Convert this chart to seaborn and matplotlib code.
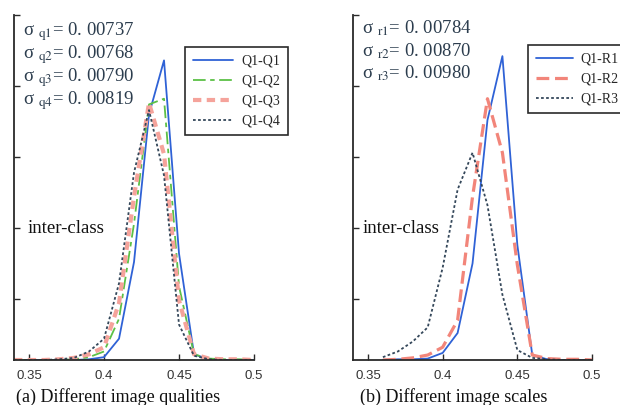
import pandas as pd
import seaborn as sns
import matplotlib.pyplot as plt

# --- Data ---
x_q = [0.34, 0.35, 0.36, 0.37, 0.38, 0.39, 0.40, 0.41, 0.42,
       0.43, 0.44, 0.45, 0.46, 0.47, 0.48, 0.49, 0.50]
q1 = [0, 0, 0, 0, 0, 0.05, 0.2, 1.5, 6.9, 17.3, 21.1, 7.5, 0.4, 0.05, 0, 0, 0]
q2 = [0, 0, 0, 0, 0.05, 0.2, 0.6, 2.9, 9.6, 18.0, 18.4, 5.2, 0.4, 0.1, 0.05, 0.05, 0]
q3 = [0, 0, 0, 0.05, 0.15, 0.4, 0.9, 4.0, 11.5, 18.1, 14.5, 4.2, 0.4, 0.1, 0.05, 0.05, 0]
q4 = [0, 0, 0, 0.05, 0.15, 0.6, 1.5, 5.4, 13.2, 17.6, 13.0, 2.5, 0.3, 0.05, 0, 0, 0]

x_r = [0.36, 0.37, 0.38, 0.39, 0.40, 0.41, 0.42, 0.43,
       0.44, 0.45, 0.46, 0.47, 0.48, 0.49, 0.50]
r1 = [0, 0.05, 0.05, 0.1, 0.5, 1.9, 6.8, 16.9, 21.4, 8.1, 0.35, 0.05, 0, 0, 0]
r2 = [0, 0.05, 0.15, 0.35, 0.9, 2.8, 11.5, 18.4, 14.6, 6.7, 0.35, 0.1, 0.05, 0.05, 0]
r3 = [0.2, 0.6, 1.3, 2.3, 6.5, 12.0, 14.6, 10.9, 4.6, 0.7, 0.15, 0.05, 0, 0, 0]

q_labels = ["Q1-Q1", "Q1-Q2", "Q1-Q3", "Q1-Q4"]
r_labels = ["Q1-R1", "Q1-R2", "Q1-R3"]
sigma_q = ["0. 00737", "0. 00768", "0. 00790", "0. 00819"]
sigma_r = ["0. 00784", "0. 00870", "0. 00980"]
x_ticks = [0.35, 0.40, 0.45, 0.50]
x_ticklabels = ["0.35", "0.4", "0.45", "0.5"]
y_ticks = [4.3, 9.3, 14.3, 19.3, 24.3]

# --- Styles ---
sns.set_style("ticks")
plt.rcParams["font.family"] = ["Liberation Serif", "DejaVu Serif"]
plt.rcParams["mathtext.fontset"] = "stix"

BLUE = "#2f62d6"
GREEN = "#5cc046"
SALMON = "#f5a39b"
SALMON2 = "#f2857a"
DARK = "#34475a"
TXT = "#2c3d4e"

q_styles = [
    dict(color=BLUE, lw=1.3, dashes=None),
    dict(color=GREEN, lw=1.3, dashes=(7, 2.5, 2.5, 2.5)),
    dict(color=SALMON, lw=3.0, dashes=(2, 1.3)),
    dict(color=DARK, lw=1.3, dashes=(1.5, 1.3)),
]
r_styles = [
    dict(color=BLUE, lw=1.3, dashes=None),
    dict(color=SALMON2, lw=2.3, dashes=(4, 1.8)),
    dict(color=DARK, lw=1.3, dashes=(1.5, 1.3)),
]

fig = plt.figure(figsize=(6.2, 4.05), dpi=100)
ax_a = fig.add_axes([0.0226, 0.1111, 0.3871, 0.852])
ax_b = fig.add_axes([0.5694, 0.1111, 0.3855, 0.852])


def draw(ax, xs, series, labels, styles):
    for ys, lab, st in zip(series, labels, styles):
        df = pd.DataFrame({"x": xs, "y": ys})
        sns.lineplot(data=df, x="x", y="y", ax=ax, color=st["color"],
                     lw=st["lw"], label=lab)
        if st["dashes"] is not None:
            ax.lines[-1].set_dashes(st["dashes"])


draw(ax_a, x_q, [q1, q2, q3, q4], q_labels, q_styles)
draw(ax_b, x_r, [r1, r2, r3], r_labels, r_styles)

for ax in (ax_a, ax_b):
    ax.set_xlim(0.34, 0.5)
    ax.set_ylim(0, 24.3)
    ax.set_xticks(x_ticks)
    ax.set_xticklabels(x_ticklabels, family="Liberation Sans", fontsize=9.5, color="#333333")
    ax.set_yticks(y_ticks)
    ax.set_yticklabels([])
    ax.tick_params(direction="in", length=4, width=1, color="#2a2a2a", pad=7)
    ax.set_xlabel("")
    ax.set_ylabel("")
    sns.despine(ax=ax)
    for s in ("left", "bottom"):
        ax.spines[s].set_color("#2a2a2a")
        ax.spines[s].set_linewidth(1.3)
    ax.patch.set_alpha(0)

# sigma annotations
for i, v in enumerate(sigma_q):
    ax_a.text(0.0375, [0.951, 0.885, 0.818, 0.752][i],
              "σ $_{\\mathrm{q%d}}$= %s" % (i + 1, v),
              transform=ax_a.transAxes, fontsize=13.5, color=TXT, va="center")
for i, v in enumerate(sigma_r):
    ax_b.text(0.036, [0.962, 0.896, 0.830][i],
              "σ $_{\\mathrm{r%d}}$= %s" % (i + 1, v),
              transform=ax_b.transAxes, fontsize=13.5, color=TXT, va="center")

ax_a.text(0.058, 0.38, "inter-class", transform=ax_a.transAxes,
          fontsize=13.5, color="#111111", va="center")
ax_b.text(0.04, 0.38, "inter-class", transform=ax_b.transAxes,
          fontsize=13.5, color="#111111", va="center")

leg_kw = dict(loc="upper left", borderaxespad=0, fancybox=False, framealpha=1,
              edgecolor="#2a2a2a", fontsize=10, handlelength=2.9,
              handletextpad=0.6, labelspacing=0.5, borderpad=0.55)
la = ax_a.legend(bbox_to_anchor=(0.7125, 0.907), **leg_kw)
leg_kw["handlelength"] = 2.7
leg_kw["handletextpad"] = 0.5
lb = ax_b.legend(bbox_to_anchor=(0.732, 0.913), **leg_kw)
for lg in (la, lb):
    lg.get_frame().set_linewidth(1.2)

fig.text(0.0258, 0.02, "(a) Different image qualities", fontsize=13, va="center", color="#111111")
fig.text(0.5806, 0.02, "(b) Different image scales", fontsize=13, va="center", color="#111111")

fig.savefig("out.png", dpi=100)
